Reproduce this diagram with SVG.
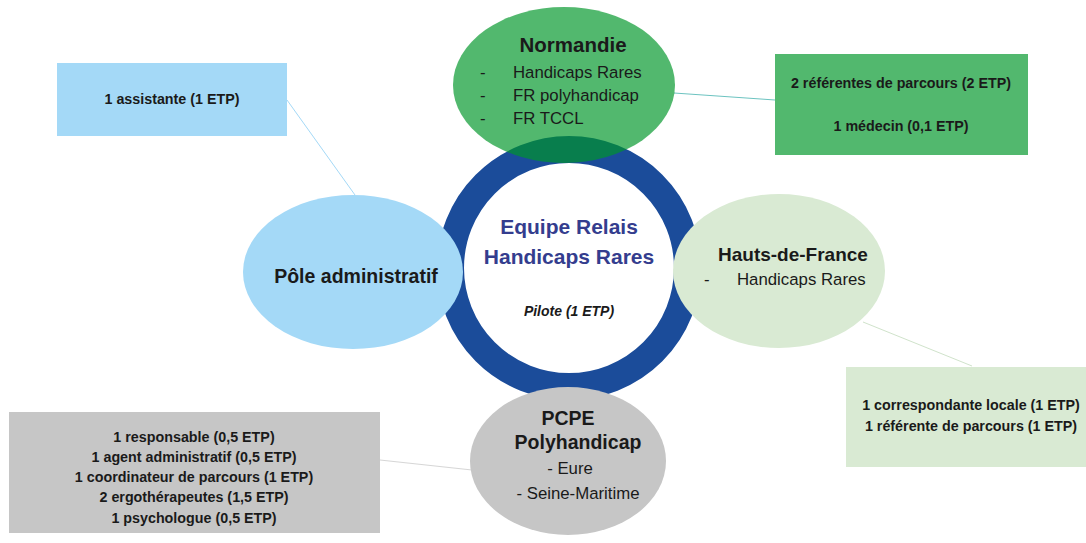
<svg xmlns="http://www.w3.org/2000/svg" width="1086" height="543" viewBox="0 0 1086 543">
<style>
text{font-family:"Liberation Sans",Arial,sans-serif;fill:#1a1a1a}
.b{font-weight:bold}
.h{font-size:19.5px;font-weight:bold;text-anchor:middle}
.l{font-size:16.8px}
.s{font-size:14.3px;font-weight:bold;text-anchor:middle}
.c{stroke-width:1;fill:none}
</style>
<rect width="1086" height="543" fill="#fff"/>
<g id="connectors">
<line class="c" x1="287" y1="100" x2="355" y2="195" stroke="#a4d9f7"/>
<line class="c" x1="674" y1="93" x2="775" y2="100" stroke="#6cc3c0"/>
<line class="c" x1="863" y1="322" x2="972" y2="366" stroke="#d0e3cb"/>
<line class="c" x1="380" y1="460" x2="472" y2="470" stroke="#d6d6d6"/>
</g>
<g id="center">
<circle cx="569" cy="268" r="118.5" fill="#fff" stroke="#1b4c9a" stroke-width="27"/>
<text x="569" y="234" text-anchor="middle" class="b" style="font-size:21px;fill:#343d8e">Equipe Relais</text>
<text x="569" y="264" text-anchor="middle" class="b" style="font-size:21px;fill:#343d8e">Handicaps Rares</text>
<text x="569" y="316" text-anchor="middle" class="b" style="font-size:14px;font-style:italic">Pilote (1 ETP)</text>
</g>
<g id="normandie">
<ellipse cx="564" cy="85" rx="111" ry="78" fill="#009629" fill-opacity="0.68"/>
<text x="573" y="52" class="h" style="font-size:20.5px">Normandie</text>
<text x="480" y="78" class="l">-</text><text x="513" y="78" class="l">Handicaps Rares</text>
<text x="480" y="101" class="l">-</text><text x="513" y="101" class="l">FR polyhandicap</text>
<text x="480" y="124" class="l">-</text><text x="513" y="124" class="l">FR TCCL</text>
</g>
<g id="normandie-staff">
<rect x="775" y="54" width="253" height="101" fill="#52b86e"/>
<text x="901" y="88" class="s">2 référentes de parcours (2 ETP)</text>
<text x="901" y="131" class="s">1 médecin (0,1 ETP)</text>
</g>
<g id="pole-admin">
<ellipse cx="353" cy="272" rx="110" ry="77" fill="#a4d9f7"/>
<text x="356" y="283" class="h">Pôle administratif</text>
</g>
<g id="pole-staff">
<rect x="57" y="63" width="230" height="73" fill="#a4d9f7"/>
<text x="172" y="104" class="s">1 assistante (1 ETP)</text>
</g>
<g id="hauts-de-france">
<ellipse cx="779" cy="271" rx="106" ry="77" fill="#d9ead3"/>
<text x="718" y="261" class="b" style="font-size:19px">Hauts-de-France</text>
<text x="704" y="285" class="l">-</text><text x="737" y="285" class="l">Handicaps Rares</text>
</g>
<g id="hdf-staff">
<rect x="846" y="367" width="240" height="100" fill="#d9ead3"/>
<text x="971" y="410" class="s">1 correspondante locale (1 ETP)</text>
<text x="971" y="431" class="s">1 référente de parcours (1 ETP)</text>
</g>
<g id="pcpe">
<ellipse cx="568" cy="461" rx="98" ry="74" fill="#c6c6c6"/>
<text x="568" y="425" class="h">PCPE</text>
<text x="578" y="449" class="h">Polyhandicap</text>
<text x="570" y="474" text-anchor="middle" class="l">- Eure</text>
<text x="578" y="499" text-anchor="middle" class="l">- Seine-Maritime</text>
</g>
<g id="pcpe-staff">
<rect x="9" y="412" width="371" height="121" fill="#c6c6c6"/>
<text x="194" y="442" class="s">1 responsable (0,5 ETP)</text>
<text x="194" y="462" class="s">1 agent administratif (0,5 ETP)</text>
<text x="194" y="482" class="s">1 coordinateur de parcours (1 ETP)</text>
<text x="194" y="502" class="s">2 ergothérapeutes (1,5 ETP)</text>
<text x="194" y="523" class="s">1 psychologue (0,5 ETP)</text>
</g>
</svg>
